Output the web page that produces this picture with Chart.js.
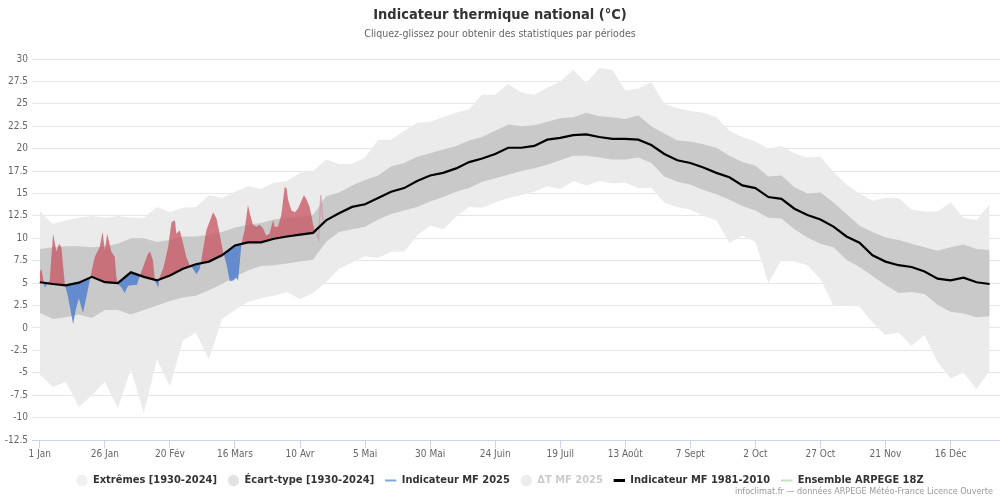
<!DOCTYPE html>
<html lang="fr">
<head>
<meta charset="utf-8">
<title>Indicateur thermique national</title>
<script src="https://cdn.jsdelivr.net/npm/chart.js@4.4.1/dist/chart.umd.min.js"></script>
<style>
    html, body { margin: 0; padding: 0; background: #fff; }
    #wrap { width: 1000px; height: 500px; }
</style>
</head>
<body>
<div id="wrap"><canvas id="chart" width="1000" height="500"></canvas></div>
<script>
// day of year (0 = 1 Jan), one value every 5 days
const days = [0, 5, 10, 15, 20, 25, 30, 35, 40, 45, 50, 55, 60, 65, 70, 75, 80, 85, 90, 95,
    100, 105, 110, 115, 120, 125, 130, 135, 140, 145, 150, 155, 160, 165, 170, 175, 180, 185, 190, 195,
    200, 205, 210, 215, 220, 225, 230, 235, 240, 245, 250, 255, 260, 265, 270, 275, 280, 285, 290, 295,
    300, 305, 310, 315, 320, 325, 330, 335, 340, 345, 350, 355, 360, 365];

// Extrêmes [1930-2024]
const extMax = [13.0, 11.6, 12.0, 12.3, 12.5, 12.3, 12.5, 12.3, 12.3, 13.5, 12.9, 13.4, 13.5, 14.8, 14.5, 15.2, 15.8, 15.5, 16.2, 16.4,
    17.3, 17.5, 18.8, 18.3, 18.3, 19.0, 21.0, 21.0, 22.0, 22.9, 23.0, 23.5, 24.0, 24.4, 26.0, 26.0, 27.2, 26.3, 26.0, 26.8,
    27.5, 28.8, 27.3, 29.0, 28.8, 26.5, 26.7, 27.4, 25.0, 24.5, 24.2, 24.0, 23.5, 22.0, 21.3, 20.8, 20.0, 20.3, 19.5, 19.0,
    19.1, 17.4, 16.0, 15.0, 14.2, 14.5, 14.5, 13.2, 13.0, 13.0, 14.0, 12.3, 12.0, 13.8];
const extMin = [-5.2, -6.6, -6.0, -8.8, -7.5, -6.0, -9.0, -4.6, -9.5, -3.5, -6.5, -1.4, -0.5, -3.5, 1.0, 2.0, 2.9, 3.3, 3.6, 4.0,
    3.2, 3.9, 5.1, 6.6, 7.3, 8.0, 7.8, 8.5, 8.5, 10.3, 11.4, 11.0, 12.4, 13.5, 13.4, 14.0, 14.5, 14.8, 15.2, 15.8,
    15.5, 16.4, 15.9, 16.4, 16.1, 16.2, 15.6, 15.6, 14.0, 13.5, 13.2, 12.5, 12.0, 9.5, 10.3, 9.6, 5.0, 7.6, 7.4, 7.0,
    5.5, 2.5, 2.5, 2.4, 0.6, -0.8, -0.5, -2.0, -0.8, -3.8, -5.6, -5.0, -6.8, -4.8];

// Écart-type [1930-2024]
const stdHi = [8.8, 9.0, 9.1, 9.1, 9.0, 9.1, 9.4, 10.0, 10.0, 9.6, 9.8, 10.2, 10.2, 10.4, 10.7, 11.2, 11.5, 11.7, 12.1, 12.3,
    12.4, 12.6, 14.7, 15.1, 15.9, 16.5, 17.0, 18.0, 18.4, 19.1, 19.5, 19.9, 20.3, 20.9, 21.3, 22.0, 22.7, 22.5, 22.6, 23.0,
    23.4, 23.5, 24.0, 23.6, 23.5, 23.3, 23.7, 22.5, 21.7, 20.9, 20.8, 20.5, 20.1, 19.2, 18.5, 18.1, 16.9, 17.0, 15.7, 15.0,
    15.1, 14.0, 12.7, 11.4, 10.7, 10.1, 9.8, 9.4, 9.0, 8.6, 9.0, 9.3, 8.8, 8.7];
const stdLo = [1.7, 1.0, 1.2, 1.5, 1.1, 2.0, 2.0, 1.5, 2.0, 2.5, 3.0, 3.4, 3.6, 4.2, 4.9, 5.7, 6.4, 6.9, 7.0, 7.2,
    7.4, 7.6, 9.6, 10.7, 11.0, 11.3, 12.1, 12.7, 13.1, 13.5, 14.1, 14.6, 15.2, 15.6, 16.3, 16.7, 17.1, 17.5, 17.8, 18.2,
    18.7, 19.2, 19.2, 19.0, 18.8, 18.8, 19.0, 18.4, 16.9, 16.3, 16.0, 15.4, 14.9, 14.3, 13.6, 13.1, 12.3, 12.2, 11.0, 10.1,
    9.4, 9.0, 7.6, 6.8, 5.8, 4.8, 3.9, 4.0, 3.8, 2.6, 1.8, 1.6, 1.2, 1.3];

// Indicateur MF 1981-2010
const normal = [5.1, 4.9, 4.75, 5.05, 5.7, 5.1, 5.0, 6.2, 5.7, 5.3, 5.85, 6.6, 7.1, 7.4, 8.1, 9.2, 9.55, 9.55, 9.95, 10.2,
    10.4, 10.6, 12.0, 12.8, 13.5, 13.8, 14.5, 15.2, 15.6, 16.4, 17.0, 17.3, 17.8, 18.5, 18.9, 19.4, 20.1, 20.1, 20.3, 21.0,
    21.2, 21.5, 21.6, 21.3, 21.1, 21.1, 21.0, 20.4, 19.4, 18.7, 18.4, 17.9, 17.3, 16.8, 15.9, 15.6, 14.6, 14.4, 13.3, 12.6,
    12.1, 11.3, 10.2, 9.5, 8.1, 7.4, 7.0, 6.8, 6.3, 5.5, 5.3, 5.6, 5.1, 4.9];

// Indicateur MF 2025
const days2025 = [0, 0.6, 1.9, 3.8, 5.1, 6.4, 7.4, 8.3, 9.0, 9.6, 10.9, 12.8, 13.8, 15.0, 16.6, 18.0, 19.3, 21.1, 23.0, 24.1,
    25.0, 25.9, 27.5, 28.8, 29.4, 30.1, 31.4, 32.6, 33.9, 35.9, 37.3, 38.4, 39.7, 41.6, 42.4, 43.5, 44.2, 45.5, 46.1, 47.4,
    49.3, 50.6, 51.9, 52.5, 53.8, 55.1, 56.3, 57.6, 58.9, 60.2, 61.5, 62.7, 64.0, 66.6, 67.9, 69.1, 70.4, 71.7, 73.0, 74.3,
    75.5, 76.2, 77.5, 78.7, 80.0, 80.7, 81.9, 83.2, 84.5, 85.8, 87.0, 88.3, 89.6, 90.3, 91.5, 92.8, 94.1, 94.8, 95.4, 96.7,
    98.0, 99.2, 101.5, 102.4, 103.7, 105.0, 105.6, 106.3];
const mf2025 = [6.2, 6.6, 4.5, 5.3, 10.5, 8.5, 9.4, 9.0, 6.8, 4.9, 3.4, 0.4, 2.0, 3.3, 1.7, 3.6, 5.5, 7.9, 9.0, 10.7,
    8.7, 10.5, 8.5, 7.9, 5.7, 4.9, 4.5, 3.9, 4.7, 4.8, 4.8, 5.8, 6.8, 8.3, 8.5, 7.5, 5.3, 4.5, 5.7, 6.6,
    9.0, 11.8, 12.0, 10.5, 10.9, 9.4, 7.9, 7.0, 6.6, 6.0, 6.6, 8.7, 10.9, 12.9, 12.2, 10.5, 8.5, 7.2, 5.2, 5.3,
    5.6, 5.3, 9.4, 10.9, 13.7, 12.8, 11.5, 11.3, 11.5, 11.1, 10.3, 10.5, 12.0, 11.3, 11.3, 12.6, 15.7, 15.6, 14.3, 13.1,
    12.9, 13.3, 14.8, 14.4, 13.5, 11.6, 10.9, 10.5];

// Ensemble ARPEGE 18Z
const daysArpege = [106.3, 107.2, 108.0, 108.8];
const arpege = [10.5, 9.9, 14.8, 12.0];

const tickDays = [0, 25, 50, 75, 100, 125, 150, 175, 200, 225, 250, 275, 300, 325, 350];
const tickLabels = ['1 Jan', '26 Jan', '20 Fév', '16 Mars', '10 Avr', '5 Mai', '30 Mai', '24 Juin',
    '19 Juil', '13 Août', '7 Sept', '2 Oct', '27 Oct', '21 Nov', '16 Déc'];

const COND = '"DejaVu Sans Condensed", "Liberation Sans Narrow", sans-serif';

const pts = (xs, ys) => xs.map((x, i) => ({ x: x, y: ys[i] }));

const legendItems = [
    { text: 'Extrêmes [1930-2024]', fillStyle: '#f1f1f1', strokeStyle: '#f1f1f1', lineWidth: 0, pointStyle: 'circle', fontColor: '#333', hidden: false },
    { text: 'Écart-type [1930-2024]', fillStyle: '#e2e2e2', strokeStyle: '#e2e2e2', lineWidth: 0, pointStyle: 'circle', fontColor: '#333', hidden: false },
    { text: 'Indicateur MF 2025', fillStyle: '#7fa7dd', strokeStyle: '#7fa7dd', lineWidth: 2, pointStyle: 'line', fontColor: '#333', hidden: false },
    { text: 'ΔT MF 2025', fillStyle: '#ececec', strokeStyle: '#ececec', lineWidth: 0, pointStyle: 'circle', fontColor: '#cccccc', hidden: false },
    { text: 'Indicateur MF 1981-2010', fillStyle: '#000', strokeStyle: '#000', lineWidth: 3, pointStyle: 'line', fontColor: '#333', hidden: false },
    { text: 'Ensemble ARPEGE 18Z', fillStyle: '#bfe6bf', strokeStyle: '#bfe6bf', lineWidth: 2, pointStyle: 'line', fontColor: '#333', hidden: false }
];

// source line bottom right
const creditsPlugin = {
    id: 'credits',
    afterDraw(chart) {
        const ctx = chart.ctx;
        ctx.save();
        ctx.font = '9px ' + COND;
        ctx.fillStyle = '#999';
        ctx.textAlign = 'right';
        ctx.textBaseline = 'middle';
        ctx.fillText('infoclimat.fr — données ARPEGE Météo-France Licence Ouverte', 993, 492);
        ctx.restore();
    }
};

const ctx = document.getElementById('chart').getContext('2d');
new Chart(ctx, {
    type: 'line',
    data: {
        datasets: [
            {
                label: 'Indicateur MF 1981-2010',
                data: pts(days, normal),
                borderColor: '#000',
                borderWidth: 2.2,
                fill: false,
                order: 0
            },
            {
                label: 'Indicateur MF 2025',
                data: pts(days2025, mf2025),
                borderColor: 'rgba(0,0,0,0)',
                borderWidth: 0,
                fill: { target: 0, above: 'rgba(200, 88, 100, 0.78)', below: 'rgba(82, 128, 206, 0.85)' },
                order: 1
            },
            {
                label: 'Ensemble ARPEGE 18Z',
                data: pts(daysArpege, arpege),
                borderColor: 'rgba(205, 150, 165, 0.7)',
                borderWidth: 1.5,
                fill: false,
                order: 1
            },
            {
                label: 'Écart-type haut',
                data: pts(days, stdHi),
                borderWidth: 0,
                borderColor: 'rgba(0,0,0,0)',
                backgroundColor: '#c9c9c9',
                fill: '+1',
                order: 2
            },
            {
                label: 'Écart-type bas',
                data: pts(days, stdLo),
                borderWidth: 0,
                borderColor: 'rgba(0,0,0,0)',
                fill: false,
                order: 2
            },
            {
                label: 'Extrêmes haut',
                data: pts(days, extMax),
                borderWidth: 0,
                borderColor: 'rgba(0,0,0,0)',
                backgroundColor: '#ebebeb',
                fill: '+1',
                order: 3
            },
            {
                label: 'Extrêmes bas',
                data: pts(days, extMin),
                borderWidth: 0,
                borderColor: 'rgba(0,0,0,0)',
                fill: false,
                order: 3
            }
        ]
    },
    options: {
        responsive: false,
        animation: false,
        devicePixelRatio: 1,
        elements: {
            point: { radius: 0, hoverRadius: 0 },
            line: { tension: 0 }
        },
        layout: { padding: { left: 0, right: 0, top: 0, bottom: 4 } },
        scales: {
            x: {
                type: 'linear',
                min: -3,
                max: 369,
                afterBuildTicks: scale => { scale.ticks = tickDays.map(v => ({ value: v })); },
                afterFit: scale => { scale.height = 24; },
                ticks: {
                    autoSkip: false,
                    maxRotation: 0,
                    padding: 0,
                    color: '#666',
                    font: { family: COND, size: 10 },
                    callback: v => tickLabels[tickDays.indexOf(v)]
                },
                grid: { drawOnChartArea: false, drawTicks: true, tickLength: 8, color: '#ccd6eb' },
                border: { color: '#ccd6eb' }
            },
            y: {
                min: -12.5,
                max: 30,
                afterFit: scale => { scale.width = 32; },
                ticks: {
                    stepSize: 2.5,
                    padding: 4,
                    color: '#666',
                    font: { family: COND, size: 10 }
                },
                grid: { color: '#e6e6e6', drawTicks: false },
                border: { display: false }
            }
        },
        plugins: {
            title: {
                display: true,
                text: 'Indicateur thermique national (°C)',
                color: '#333',
                font: { family: COND, size: 14.5, weight: 'bold' },
                padding: { top: 7, bottom: 4 }
            },
            subtitle: {
                display: true,
                text: 'Cliquez-glissez pour obtenir des statistiques par périodes',
                color: '#666',
                font: { family: COND, size: 10.5 },
                padding: { top: 0, bottom: 18 }
            },
            legend: {
                position: 'bottom',
                onClick: null,
                labels: {
                    usePointStyle: true,
                    boxHeight: 8,
                    padding: 11,
                    color: '#333',
                    font: { family: COND, size: 11, weight: 'bold' },
                    generateLabels: () => legendItems
                }
            },
            tooltip: { enabled: false }
        }
    },
    plugins: [creditsPlugin]
});
</script>
</body>
</html>
